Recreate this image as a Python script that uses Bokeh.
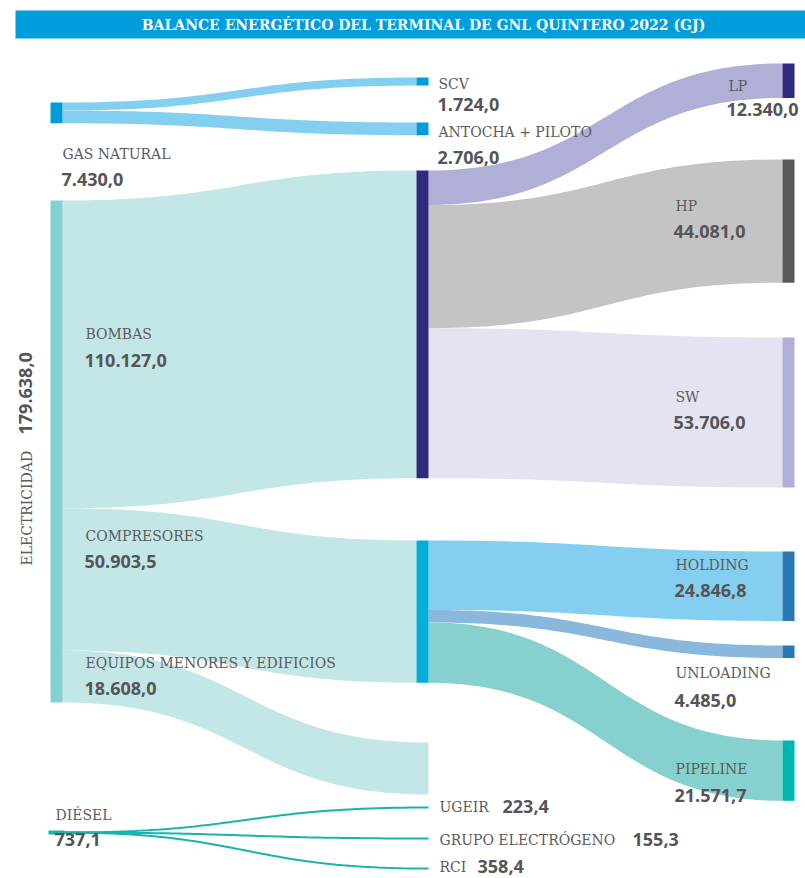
import numpy as np
from bokeh.plotting import figure
from bokeh.models import Range1d
from bokeh.core.properties import value
from bokeh.embed import file_html
from bokeh.resources import INLINE

# ---------------- DATA ----------------
title_text = "BALANCE ENERGÉTICO DEL TERMINAL DE GNL QUINTERO 2022 (GJ)"

source_names = ["GAS NATURAL", "ELECTRICIDAD", "DIÉSEL"]
source_values = [7430.0, 179638.0, 737.1]
source_labels = ["7.430,0", "179.638,0", "737,1"]

gas_targets = ["SCV", "ANTOCHA + PILOTO"]
gas_values = [1724.0, 2706.0]
gas_labels = ["1.724,0", "2.706,0"]

elec_targets = ["BOMBAS", "COMPRESORES", "EQUIPOS MENORES Y EDIFICIOS"]
elec_values = [110127.0, 50903.5, 18608.0]
elec_labels = ["110.127,0", "50.903,5", "18.608,0"]

bombas_targets = ["LP", "HP", "SW"]
bombas_values = [12340.0, 44081.0, 53706.0]
bombas_labels = ["12.340,0", "44.081,0", "53.706,0"]

comp_targets = ["HOLDING", "UNLOADING", "PIPELINE"]
comp_values = [24846.8, 4485.0, 21571.7]
comp_labels = ["24.846,8", "4.485,0", "21.571,7"]

diesel_targets = ["UGEIR", "GRUPO ELECTRÓGENO", "RCI"]
diesel_values = [223.4, 155.3, 358.4]
diesel_labels = ["223,4", "155,3", "358,4"]

# ---------------- LAYOUT ----------------
ELEC_H = 502.0
K = ELEC_H / source_values[1]          # px per GJ
X0, X1, X2 = 50.0, 416.0, 782.0        # node column left edges
NW = 12.0                              # node width

gas_top, elec_top, diesel_y = 102.0, 200.0, 832.0
gas_t_tops = [77.0, 122.0]
elec_t_tops = [170.0, 540.0, 742.0]
bombas_t_tops = [63.0, 159.0, 337.0]
comp_t_tops = [551.0, 645.0, 740.0]
diesel_t_ys = [807.0, 838.0, 868.0]

NAME_COLOR = "#5b5b5e"
VAL_COLOR = "#555558"
NAME_FONT = value("DejaVu Serif")
VAL_FONT = value("Open Sans")

p = figure(width=805, height=878, x_range=Range1d(0, 805), y_range=Range1d(878, 0),
           toolbar_location=None, output_backend="svg", min_border=0,
           x_axis_location=None, y_axis_location=None, outline_line_color=None)
p.xgrid.visible = False
p.ygrid.visible = False
p.background_fill_color = "white"


def bez(x0, y0, x1, y1, n=60):
    t = np.linspace(0, 1, n)
    xm = (x0 + x1) / 2.0
    x = (1 - t) ** 3 * x0 + 3 * (1 - t) ** 2 * t * xm + 3 * (1 - t) * t ** 2 * xm + t ** 3 * x1
    y = (1 - t) ** 3 * y0 + 3 * (1 - t) ** 2 * t * y0 + 3 * (1 - t) * t ** 2 * y1 + t ** 3 * y1
    return x, y


def band(x0, y0, w0, x1, y1, w1):
    xt, yt = bez(x0, y0, x1, y1)
    xb, yb = bez(x0, y0 + w0, x1, y1 + w1)
    return list(np.concatenate([xt, xb[::-1]])), list(np.concatenate([yt, yb[::-1]]))


def node(x, top, h, color):
    p.quad(left=[x], right=[x + NW], top=[top], bottom=[top + h], fill_color=color, line_color=None)


# title bar
p.quad(left=[15], right=[805], top=[10], bottom=[38], fill_color="#009ddc", line_color=None)
p.text(x=[423], y=[24.5], text=[title_text], text_color="white", text_font=value("DejaVu Serif"),
       text_font_style="bold", text_font_size="14px", text_align="center", text_baseline="middle")

# ---- gas natural flows ----
gas_h = source_values[0] * K
gsum = sum(gas_values)
y = gas_top
for v, tt in zip(gas_values, gas_t_tops):
    w = gas_h * v / gsum
    xs, ys = band(X0 + NW, y, w, X1, tt, w)
    p.patch(xs, ys, fill_color="#84cff0", line_color=None)
    node(X1, tt, w, "#009ddc")
    y += w
node(X0, gas_top, gas_h, "#009ddc")

# ---- electricity flows ----
y = elec_top
for i, (v, tt) in enumerate(zip(elec_values, elec_t_tops)):
    w = v * K
    xs, ys = band(X0 + NW, y, w, X1 + (NW if i == 2 else 0), tt, w)
    p.patch(xs, ys, fill_color="#c3e6e6", line_color=None)
    y += w
node(X0, elec_top, source_values[1] * K, "#84cfcf")

# ---- bombas flows ----
b_flow = ["#afafd8", "#c4c4c4", "#e3e3f2"]
b_node = ["#2e2a7e", "#58595b", "#afafd8"]
y = elec_t_tops[0]
for v, tt, fc, nc in zip(bombas_values, bombas_t_tops, b_flow, b_node):
    w = v * K
    xs, ys = band(X1 + NW, y, w, X2, tt, w)
    p.patch(xs, ys, fill_color=fc, line_color=None)
    node(X2, tt, w, nc)
    y += w
node(X1, elec_t_tops[0], elec_values[0] * K, "#2e2a7e")

# ---- compresores flows ----
c_flow = ["#84cff0", "#8ab7dc", "#86d0cd"]
c_node = ["#2a78b4", "#2a78b4", "#00b6ae"]
y = elec_t_tops[1]
for v, tt, fc, nc in zip(comp_values, comp_t_tops, c_flow, c_node):
    w = v * K
    xs, ys = band(X1 + NW, y, w, X2, tt, w)
    p.patch(xs, ys, fill_color=fc, line_color=None)
    node(X2, tt, w, nc)
    y += w
node(X1, elec_t_tops[1], elec_values[1] * K, "#00aed8")

# ---- diesel ----
for v, ty in zip(diesel_values, diesel_t_ys):
    xs, ys = bez(X0 + NW, diesel_y, X1 + NW, ty)
    p.line(list(xs), list(ys), line_color="#17b3ad", line_width=2)
p.line([X0 - 2, X0 + NW + 2], [diesel_y, diesel_y], line_color="#17b3ad", line_width=4)

# ---------------- LABELS ----------------
def name(x, y, t, **kw):
    p.text(x=[x], y=[y], text=[t], text_color=NAME_COLOR, text_font=NAME_FONT,
           text_font_size="14px", text_baseline="middle", **kw)


def val(x, y, t, **kw):
    p.text(x=[x], y=[y], text=[t], text_color=VAL_COLOR, text_font=VAL_FONT,
           text_font_style="bold", text_font_size="18px", text_baseline="middle", **kw)


# left column
name(62, 153, source_names[0]); val(61, 179, source_labels[0])
name(55, 814, source_names[2]); val(54, 839, source_labels[2])
name(26, 565, source_names[1], angle=np.pi / 2, text_align="left")
val(25, 434, source_labels[1], angle=np.pi / 2, text_align="left")

# electricity targets
for t, lab, (yn, yv) in zip(elec_targets, elec_labels, [(333, 360), (535, 561), (662, 688)]):
    name(85, yn, t); val(84, yv, lab)

# gas targets
for t, lab, (yn, yv) in zip(gas_targets, gas_labels, [(83, 104), (131, 157)]):
    name(438, yn, t); val(437, yv, lab)

# bombas targets
for t, lab, (xn, yn, yv) in zip(bombas_targets, bombas_labels,
                                [(728, 85, 109), (675, 205, 231), (675, 396, 422)]):
    name(xn, yn, t); val(xn - 2, yv, lab)

# compresores targets
for t, lab, (yn, yv) in zip(comp_targets, comp_labels, [(564, 590), (672, 700), (768, 795)]):
    name(675, yn, t); val(674, yv, lab)

# diesel targets (inline)
for t, lab, (yy, xv) in zip(diesel_targets, diesel_labels, [(806, 502), (839, 632), (866, 477)]):
    name(439, yy, t); val(xv, yy, lab)

open("out.html", "w").write(file_html(p, INLINE))
